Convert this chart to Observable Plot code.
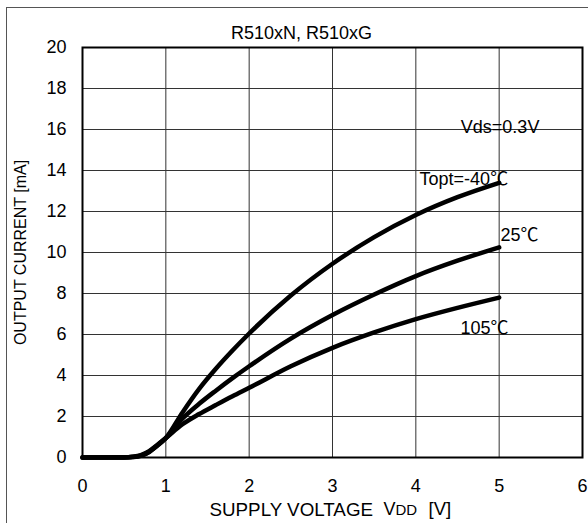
<!DOCTYPE html>
<html>
<head>
<meta charset="utf-8">
<script src="https://cdn.jsdelivr.net/npm/d3@7"></script>
<script src="https://cdn.jsdelivr.net/npm/@observablehq/plot@0.6"></script>
<style>
  html, body { margin: 0; padding: 0; background: #fff; }
  #chart svg { overflow: hidden; display: block; }
</style>
</head>
<body>
<div id="chart"></div>
<script>
// ---- data ----
const chartTitle = "R510xN, R510xG";
const xTicks = [0, 1, 2, 3, 4, 5, 6];
const yTicks = [0, 2, 4, 6, 8, 10, 12, 14, 16, 18, 20];
const seriesNames = ["Topt=-40℃", "25℃", "105℃"];
const vdd = [0, 0.5, 0.6, 0.7, 0.8, 0.9, 1.0, 1.2, 1.4, 1.6, 1.8, 2.0, 2.5, 3.0, 3.5, 4.0, 4.5, 5.0];
const iMinus40 = [0, 0, 0.02, 0.08, 0.27, 0.58, 0.95, 2.2, 3.35, 4.33, 5.22, 6.05, 7.9, 9.45, 10.75, 11.83, 12.7, 13.4];
const i25 = [0, 0, 0.02, 0.09, 0.28, 0.6, 0.95, 1.9, 2.62, 3.26, 3.87, 4.45, 5.8, 6.95, 7.95, 8.85, 9.6, 10.25];
const i105 = [0, 0.01, 0.04, 0.12, 0.31, 0.62, 0.95, 1.62, 2.12, 2.56, 2.99, 3.4, 4.45, 5.35, 6.1, 6.75, 7.3, 7.8];
const annotText = ["Vds=0.3V", "Topt=-40℃", "25℃", "105℃"];
const annotX = [4.54, 4.045, 5.016, 4.536];
const annotY = [16.1, 13.55, 10.82, 6.33];
const xLabelMain = "SUPPLY VOLTAGE";
const xLabelV = "V";
const xLabelSub = "DD";
const xLabelUnit = "[V]";
const yLabel = "OUTPUT CURRENT [mA]";

// ---- build tables ----
const seriesValues = [iMinus40, i25, i105];
const lineData = [];
seriesNames.forEach((name, s) => {
  vdd.forEach((v, i) => lineData.push({series: name, x: v, y: seriesValues[s][i]}));
});
const annots = annotText.map((t, i) => ({t, x: annotX[i], y: annotY[i]}));

const FONT = "'Liberation Sans', Arial, 'Noto Sans CJK JP', sans-serif";

const chart = Plot.plot({
  width: 588,
  height: 523,
  marginLeft: 82,
  marginRight: 6,
  marginTop: 47,
  marginBottom: 66,
  style: {fontFamily: FONT, fontSize: "18px", color: "#000", background: "#fff"},
  x: {domain: [0, 6]},
  y: {domain: [0, 20]},
  marks: [
    Plot.gridX(xTicks.slice(1, -1), {stroke: "#333", strokeOpacity: 1, strokeWidth: 1}),
    Plot.gridY(yTicks.slice(1, -1), {stroke: "#333", strokeOpacity: 1, strokeWidth: 1}),
    Plot.axisX(xTicks, {tickSize: 0, tickPadding: 22, fontSize: 18, label: null}),
    Plot.axisY(yTicks, {tickSize: 0, tickPadding: 16, fontSize: 18, label: null}),
    Plot.line(lineData, {x: "x", y: "y", z: "series", stroke: "#000", strokeWidth: 4.5, curve: "monotone-x", strokeLinecap: "round", strokeLinejoin: "round"}),
    Plot.frame({stroke: "#000", strokeWidth: 2}),
    Plot.text(annots, {x: "x", y: "y", text: "t", textAnchor: "start", lineAnchor: "middle", fontSize: 18, fill: "#000", className: "annot"}),
    Plot.text([chartTitle], {frameAnchor: "top", dx: -31, dy: -14, lineAnchor: "middle", fontSize: 18, fill: "#000"}),
    Plot.text([yLabel], {frameAnchor: "left", dx: -62, rotate: -90, textAnchor: "middle", fontSize: 16, fill: "#000"}),
    Plot.text([xLabelMain], {frameAnchor: "bottom-left", dx: 127, dy: 52, textAnchor: "start", lineAnchor: "middle", fontSize: 18.8, fill: "#000"}),
    Plot.text([xLabelV], {frameAnchor: "bottom-left", dx: 301, dy: 52, textAnchor: "start", lineAnchor: "middle", fontSize: 18, fill: "#000"}),
    Plot.text([xLabelSub], {frameAnchor: "bottom-left", dx: 313, dy: 53, textAnchor: "start", lineAnchor: "middle", fontSize: 15, fill: "#000"}),
    Plot.text([xLabelUnit], {frameAnchor: "bottom-left", dx: 346, dy: 52, textAnchor: "start", lineAnchor: "middle", fontSize: 18.5, fill: "#000"})
  ]
});

// render the ℃ sign with the CJK font (full-width glyph, as in the reference)
d3.select(chart).selectAll("g.annot text").each(function() {
  const el = d3.select(this);
  const s = el.text();
  const k = s.indexOf("℃");
  if (k < 0) return;
  el.text(null);
  el.append("tspan").text(s.slice(0, k));
  el.append("tspan").attr("font-family", "'Noto Sans CJK JP'").text("℃");
});

// outer border of the figure
d3.select(chart).insert("rect", ":first-child")
  .attr("x", 6.5).attr("y", 7.5).attr("width", 640).attr("height", 640)
  .attr("fill", "none").attr("stroke", "#555").attr("stroke-width", 1);

document.getElementById("chart").appendChild(chart);
</script>
</body>
</html>
